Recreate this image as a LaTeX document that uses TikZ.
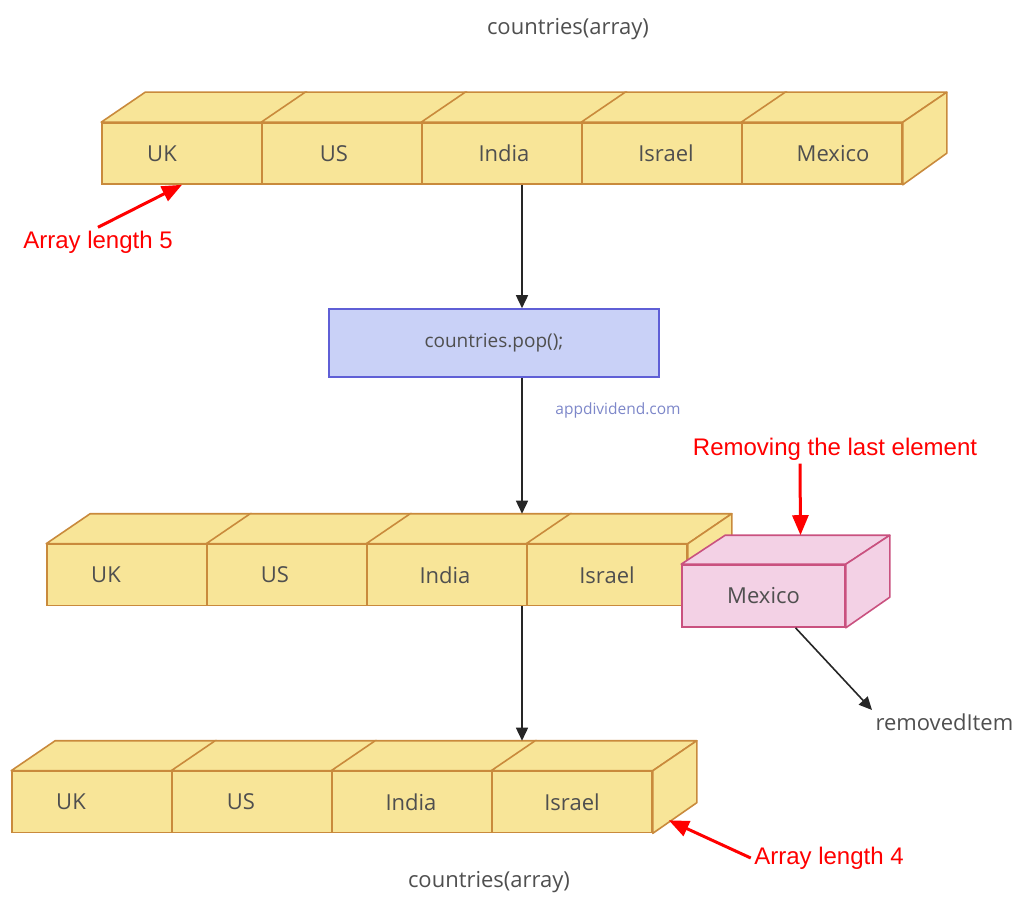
\documentclass[tikz,border=0pt]{standalone}
\usepackage{fontspec}
\setmainfont{Open Sans}
\newfontfamily\notefont{Liberation Sans}
\usetikzlibrary{arrows.meta,calc}
\definecolor{cellfill}{HTML}{F8E598}
\definecolor{celledge}{HTML}{C98A3C}
\definecolor{popfill}{HTML}{C9D1F7}
\definecolor{popedge}{HTML}{5F5FD6}
\definecolor{outfill}{HTML}{F3D1E5}
\definecolor{outedge}{HTML}{C9517F}
\definecolor{labelgray}{HTML}{4F4F4F}
\definecolor{sitecolor}{HTML}{7D87C9}
\tikzset{
  cell/.style={draw=celledge, fill=cellfill, line width=1.6pt, minimum width=160pt, minimum height=61pt, inner sep=0pt, text=labelgray, font=\fontsize{22}{26}\selectfont},
  face/.style={draw=celledge, fill=cellfill, line width=1.6pt, line join=round},
  plain/.style={text=labelgray, font=\fontsize{22}{26}\selectfont},
  flow/.style={draw=black!85, line width=1.6pt, -{Triangle[length=13pt,width=12pt]}},
  note/.style={text=red, font=\notefont\fontsize{24}{28}\selectfont},
  pointer/.style={draw=red, line width=3pt, -{Triangle[length=20pt,width=16pt]}}
}
\begin{document}
\begin{tikzpicture}[x=1pt,y=-1pt]
\useasboundingbox (0,0) rectangle (1024,896);
\coordinate (axis) at (522,0);
\node[plain] (title) at (568,29) {countries(array)};

% full array
\foreach \name/\word/\dx [count=\i] in {uk/UK/-20,us/US/-8,in/India/2,is/Israel/4,mx/Mexico/11}{
  \node[cell, text width=160pt, align=center, text depth=0pt] (a\name) at ({22+160*\i},153.5) {\hspace*{\dx pt}\hspace*{\dx pt}\word};
  \path[face] (a\name.north west) -- ++(44,-30) -- ($(a\name.north east)+(44,-30)$) -- (a\name.north east) -- cycle;
}
\path[face] (amx.north east) -- ++(44,-30) -- ++(0,61) -- (amx.south east) -- cycle;

\node[note] (len5) at (98,242) {Array length 5};
\draw[pointer] (len5.north) -- (auk.south);

\node[draw=popedge, fill=popfill, line width=1.6pt, minimum width=330pt, minimum height=68pt, text=labelgray, font=\fontsize{19}{22}\selectfont] (pop) at (494,343) {countries.pop();};
\node[text=sitecolor, font=\fontsize{15.5}{18}\selectfont] (site) at (618,410) {appdividend.com};

% array after pop
\foreach \name/\word/\dx [count=\i] in {uk/UK/-21,us/US/-12,in/India/-2,is/Israel/0}{
  \node[cell, text width=160pt, align=center, text depth=0pt] (b\name) at ({-33+160*\i},575) {\hspace*{\dx pt}\hspace*{\dx pt}\word};
  \path[face] (b\name.north west) -- ++(44,-30) -- ($(b\name.north east)+(44,-30)$) -- (b\name.north east) -- cycle;
}
\path[face] (bis.north east) -- ++(44,-30) -- ++(0,61) -- (bis.south east) -- cycle;

% popped item
\node[cell, fill=outfill, draw=outedge, minimum width=163pt, minimum height=62pt] (mexico) at (763.5,596) {Mexico};
\path[face, fill=outfill, draw=outedge] (mexico.north west) -- ++(44,-29) -- ($(mexico.north east)+(44,-29)$) -- (mexico.north east) -- cycle;
\path[face, fill=outfill, draw=outedge] (mexico.north east) -- ++(44,-29) -- ++(0,62) -- (mexico.south east) -- cycle;

\node[note] (remove) at (835,449) {Removing the last element};
\draw[pointer] ([xshift=-35pt]remove.south) -- ($(mexico.north)+(37,-29)$);

\node[plain, anchor=west] (removed) at (872,722) {removedItem};
\draw[flow] ([xshift=32pt]mexico.south) -- (removed.north west);

% result array
\foreach \name/\word/\dx [count=\i] in {uk/UK/-21,us/US/-11,in/India/-1,is/Israel/0}{
  \node[cell, text width=160pt, align=center, text depth=0pt] (c\name) at ({-68+160*\i},802) {\hspace*{\dx pt}\hspace*{\dx pt}\word};
  \path[face] (c\name.north west) -- ++(44,-30) -- ($(c\name.north east)+(44,-30)$) -- (c\name.north east) -- cycle;
}
\path[face] (cis.north east) -- ++(44,-30) -- ++(0,62) -- (cis.south east) -- cycle;

\node[note] (len4) at (829,858) {Array length 4};
\draw[pointer] (len4.west) -- ($(cis.south east)+(16,-13)$);

\node[plain] (caption) at (489,882) {countries(array)};

\draw[flow] (ain.south -| axis) -- (pop.north -| axis);
\draw[flow] (pop.south -| axis) -- ($(bin.north -| axis)+(0,-30)$);
\draw[flow] (bin.south -| axis) -- ($(cin.north -| axis)+(0,-30)$);
\end{tikzpicture}
\end{document}
